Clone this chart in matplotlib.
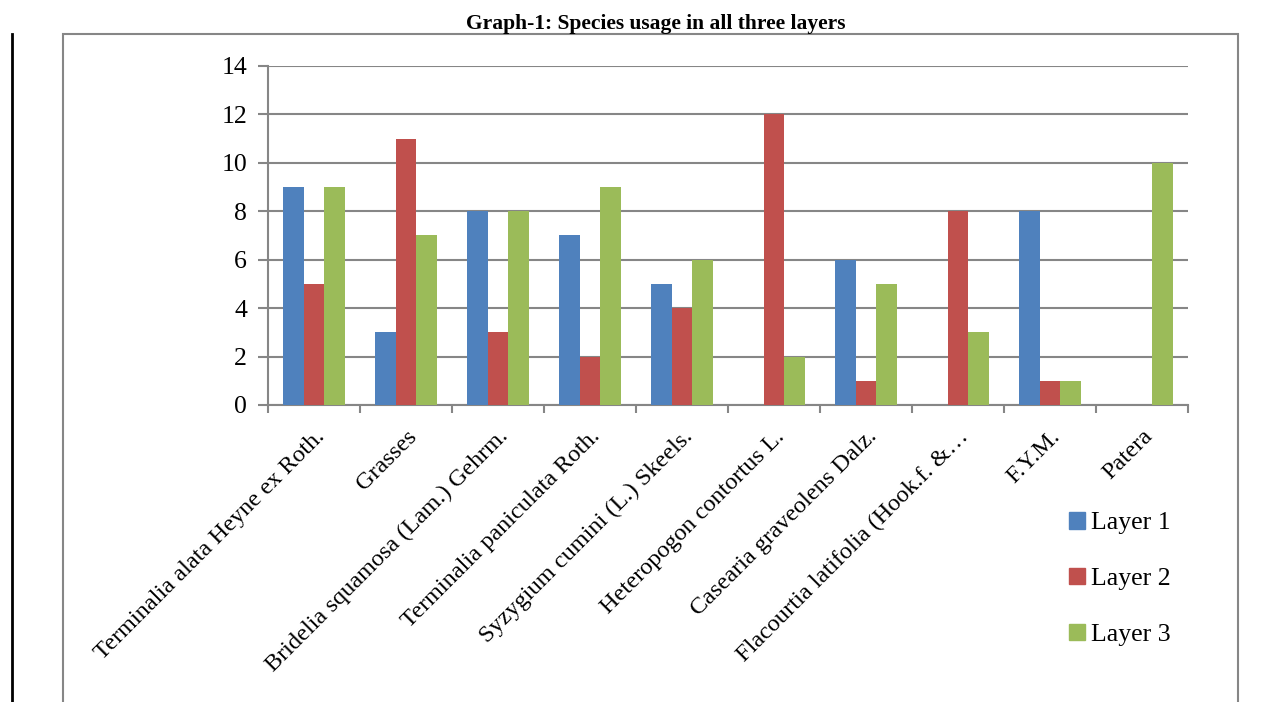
import matplotlib
matplotlib.use('Agg')
import matplotlib.pyplot as plt
import numpy as np
from matplotlib.patches import Rectangle
from matplotlib.lines import Line2D

species = ['Terminalia alata Heyne ex Roth.', 'Grasses', 'Bridelia squamosa (Lam.) Gehrm.',
           'Terminalia paniculata Roth.', 'Syzygium cumini (L.) Skeels.', 'Heteropogon contortus L.',
           'Casearia graveolens Dalz.', 'Flacourtia latifolia (Hook.f. &\u2026', 'F.Y.M.', 'Patera']
layer1 = [9, 3, 8, 7, 5, 0, 6, 0, 8, 0]
layer2 = [5, 11, 3, 2, 4, 12, 1, 8, 1, 0]
layer3 = [9, 7, 8, 9, 6, 2, 5, 3, 1, 10]
layer_names = ['Layer 1', 'Layer 2', 'Layer 3']
colors = ['#4F81BD', '#C0504D', '#9BBB59']

plt.rcParams['font.family'] = ['Liberation Serif', 'DejaVu Serif']
grey = '#868686'

fig = plt.figure(figsize=(12.76, 7.02), dpi=100)

# outer chart frame and the black page line on the left
fig.add_artist(Rectangle((63 / 1276, -0.05), (1238 - 63) / 1276, 1.05 - 34 / 702,
                         transform=fig.transFigure, fill=False, edgecolor=grey, lw=1.5))
fig.add_artist(Line2D([12 / 1276, 12 / 1276], [0, 1 - 34 / 702], transform=fig.transFigure,
                      color='black', lw=2))
fig.text(656 / 1276, 1 - 24 / 702, 'Graph-1: Species usage in all three layers',
         ha='center', va='center', fontsize=15.5, fontweight='bold')

ax = fig.add_axes([268 / 1276, 1 - 405 / 702, (1188 - 268) / 1276, (405 - 66) / 702])
x = np.arange(len(species))
w = 0.225
for i, (vals, name) in enumerate(zip([layer1, layer2, layer3], layer_names)):
    ax.bar(x + (i - 1) * w, vals, w, color=colors[i], label=name, zorder=3)

ax.set_xlim(-0.5, len(species) - 0.5)
ax.set_ylim(0, 14)
ax.set_yticks(range(0, 15, 2))
ax.yaxis.grid(True, color=grey, lw=1.5, zorder=0)
ax.tick_params(axis='y', labelsize=18.5, length=7, width=1.5, color=grey, pad=8)
ax.set_xticks(x)
ax.set_xticklabels(species, rotation=45, ha='right', rotation_mode='anchor', fontsize=17.5)
ax.tick_params(axis='x', which='major', length=0, pad=15)
ax.set_xticks(np.arange(-0.5, len(species)), minor=True)
ax.tick_params(axis='x', which='minor', length=6, width=1.5, color=grey)
for s in ['top', 'right']:
    ax.spines[s].set_visible(False)
for s in ['left', 'bottom']:
    ax.spines[s].set_color(grey)
    ax.spines[s].set_linewidth(1.5)

handles = [Rectangle((0, 0), 1, 1, color=c) for c in colors]
fig.legend(handles, layer_names, loc='center left', bbox_to_anchor=(1046 / 1276, 1 - 579 / 702),
           frameon=False, fontsize=18.5, handlelength=0.6, handleheight=0.6, handletextpad=0.25,
           labelspacing=1.3)

fig.savefig('out.png', dpi=100)
